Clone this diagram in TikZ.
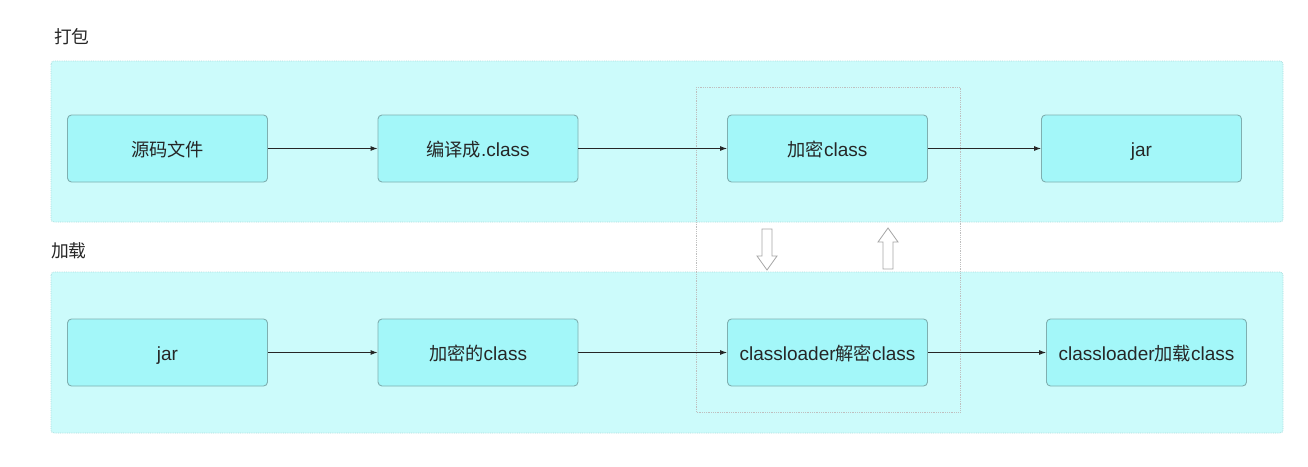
\documentclass[tikz,border=0pt]{standalone}
\usepackage{fontspec}
\setmainfont{Liberation Sans}
\newfontfamily\cjk[Scale=0.96]{Noto Sans CJK SC}
\usetikzlibrary{arrows.meta}
\definecolor{panelfill}{HTML}{CCFBFB}
\definecolor{panelline}{HTML}{A8DCDC}
\definecolor{boxfill}{HTML}{A3F7F9}
\definecolor{boxline}{HTML}{7FAFB0}
\definecolor{txt}{HTML}{262626}
\tikzset{
  panel/.style={fill=panelfill, draw=panelline, densely dotted, line width=0.8pt, rounded corners=3pt},
  stepbox/.style={fill=boxfill, draw=boxline, line width=0.9pt, rounded corners=4pt, minimum width=200pt, minimum height=67pt, text=txt, font=\fontsize{19}{22}\selectfont, inner sep=0pt, text height=16pt, text depth=1pt},
  flow/.style={-{Latex[length=7pt,width=5pt]}, line width=0.9pt, draw=black!85},
  hollow/.style={fill=white, draw=black!35, line width=0.8pt},
  lbl/.style={text=txt, font=\fontsize{18.5}{22}\selectfont, anchor=west, inner sep=0pt},
}
\begin{document}
\begin{tikzpicture}[x=1pt,y=-1pt]
\useasboundingbox (0,0) rectangle (1308,466);
% panels
\draw[panel] (51,61) rectangle (1283,222);
\draw[panel] (51,272) rectangle (1283,433);
% dotted highlight box
\draw[draw=black!25, densely dotted, line width=0.8pt] (696,87) rectangle (960,412);
% labels
\node[lbl] (l1) at (54,37) {\cjk 打包};
\node[lbl] (l2) at (51,251) {\cjk 加载};
% top row
\node[stepbox] (a1) at (167.5,148.5) {\cjk 源码文件};
\node[stepbox] (a2) at (478,148.5) {{\cjk 编译成}.class};
\node[stepbox] (a3) at (827.5,148.5) {{\cjk 加密}class};
\node[stepbox] (a4) at (1141.5,148.5) {jar};
% bottom row
\node[stepbox] (b1) at (167.5,352.5) {jar};
\node[stepbox] (b2) at (478,352.5) {{\cjk 加密的}class};
\node[stepbox] (b3) at (827.5,352.5) {classloader{\cjk 解密}class};
\node[stepbox] (b4) at (1146.5,352.5) {classloader{\cjk 加载}class};
% connectors
\draw[flow] (a1) -- (a2);
\draw[flow] (a2) -- (a3);
\draw[flow] (a3) -- (a4);
\draw[flow] (b1) -- (b2);
\draw[flow] (b2) -- (b3);
\draw[flow] (b3) -- (b4);
% hollow arrows
\draw[hollow] (762,229) -- (772,229) -- (772,256) -- (777,256) -- (767,270) -- (757,256) -- (762,256) -- cycle;
\draw[hollow] (883,269) -- (893,269) -- (893,242) -- (898,242) -- (888,228) -- (878,242) -- (883,242) -- cycle;
\end{tikzpicture}
\end{document}
